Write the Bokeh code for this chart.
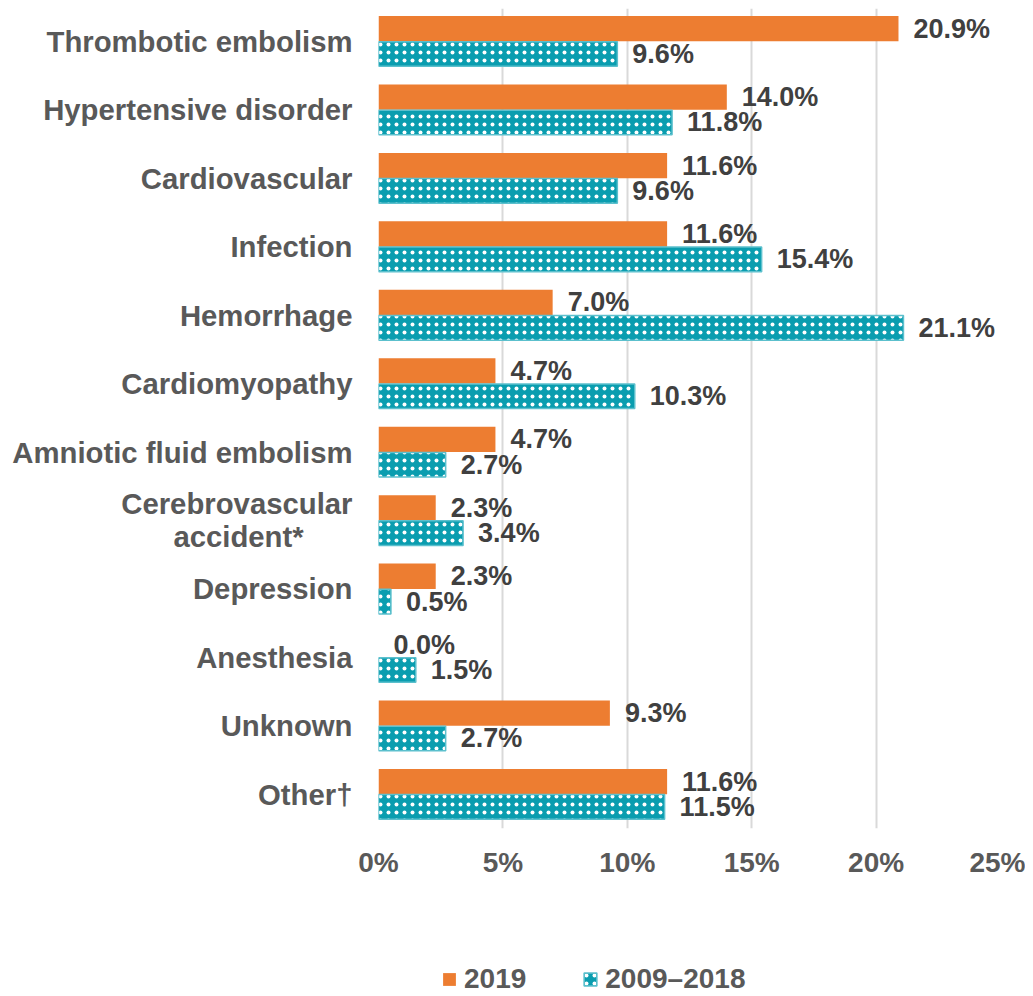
from bokeh.plotting import figure
from bokeh.models import ColumnDataSource, FixedTicker, Legend, LegendItem
from bokeh.layouts import column
from bokeh.core.properties import value
from bokeh.embed import file_html
from bokeh.resources import INLINE

NBSP = "\u00a0"
categories = ["Thrombotic embolism", "Hypertensive disorder", "Cardiovascular", "Infection",
              "Hemorrhage", "Cardiomyopathy", "Amniotic fluid embolism",
              "Cerebrovascular\naccident*" + NBSP * 6, "Depression", "Anesthesia", "Unknown",
              "Other\u2020"]
series_names = ["2019", "2009\u20132018"]
values_2019 = [20.9, 14.0, 11.6, 11.6, 7.0, 4.7, 4.7, 2.3, 2.3, 0.0, 9.3, 11.6]
values_0918 = [9.6, 11.8, 9.6, 15.4, 21.1, 10.3, 2.7, 3.4, 0.5, 1.5, 2.7, 11.5]
x_ticks = [0, 5, 10, 15, 20, 25]
x_tick_labels = ["0%", "5%", "10%", "15%", "20%", "25%"]

FONT = "Liberation Sans"
ORANGE = "#ED7D31"
TEAL = "#0A9DAF"
TEAL_EDGE = "#5CC0CD"
GRAY = "#595959"
DARK = "#404040"

n = len(categories)
pos = [n - 1 - i for i in range(n)]
off = 0.185

src_a = ColumnDataSource(dict(y=[p + off for p in pos], v=values_2019,
                              lab=["%.1f%%" % v for v in values_2019]))
src_b = ColumnDataSource(dict(y=[p - off for p in pos], v=values_0918,
                              lab=["%.1f%%" % v for v in values_0918]))

style_a = dict(fill_color=ORANGE, line_color=None)
style_b = dict(fill_color=TEAL, line_color=TEAL_EDGE, line_width=1.5,
               hatch_pattern=".", hatch_color="white", hatch_scale=8, hatch_weight=1)

p = figure(width=1025, height=880, output_backend="svg", toolbar_location=None,
           x_range=(0, 25), y_range=(-0.5, 11.48),
           min_border_left=378, min_border_right=25, min_border_top=8, min_border_bottom=52)
p.outline_line_color = None
p.background_fill_color = "white"

p.hbar(y="y", right="v", left=0, height=0.37, source=src_a, **style_a)
p.hbar(y="y", right="v", left=0, height=0.36, source=src_b, **style_b)

for src in (src_a, src_b):
    p.text(x="v", y="y", text="lab", source=src, x_offset=15, text_align="left",
           text_baseline="middle", text_font=value(FONT), text_font_style="bold",
           text_font_size="27px", text_color=DARK)

# x axis
p.xaxis.ticker = FixedTicker(ticks=x_ticks)
p.xaxis.major_label_overrides = {t: l for t, l in zip(x_ticks, x_tick_labels)}
p.xaxis.axis_line_color = None
p.xaxis.major_tick_line_color = None
p.xaxis.minor_tick_line_color = None
p.xaxis.major_tick_out = 0
p.xaxis.major_label_standoff = 18
p.xaxis.major_label_text_font = FONT
p.xaxis.major_label_text_font_style = "bold"
p.xaxis.major_label_text_font_size = "28px"
p.xaxis.major_label_text_color = GRAY

# y axis
p.yaxis.ticker = FixedTicker(ticks=pos)
p.yaxis.major_label_overrides = {pp: c for pp, c in zip(pos, categories)}
p.yaxis.axis_line_color = None
p.yaxis.major_tick_line_color = None
p.yaxis.minor_tick_line_color = None
p.yaxis.major_tick_out = 0
p.yaxis.major_label_standoff = 26
p.yaxis.major_label_text_font = FONT
p.yaxis.major_label_text_font_style = "bold"
p.yaxis.major_label_text_font_size = "29.3px"
p.yaxis.major_label_text_line_height = 1.0
p.yaxis.major_label_text_color = GRAY

p.xgrid.ticker = FixedTicker(ticks=x_ticks)
p.xgrid.grid_line_color = "#D9D9D9"
p.xgrid.grid_line_width = 2
p.ygrid.grid_line_color = None

# legend figure below the chart (its frame is aligned with the chart's frame)
lf = figure(width=1025, height=116, output_backend="svg", toolbar_location=None,
            x_range=(0, 1), y_range=(0, 1), min_border=0)
lf.axis.visible = False
lf.grid.visible = False
lf.outline_line_color = None
# one off-range placeholder row so the legend swatches get their styles
proxy = ColumnDataSource(dict(y=[-5], v=[0]))
la = lf.hbar(y="y", right="v", left=0, height=0.1, source=proxy, **style_a)
lb = lf.hbar(y="y", right="v", left=0, height=0.1, source=proxy, **style_b)
legend = Legend(items=[LegendItem(label=series_names[0], renderers=[la]),
                       LegendItem(label=series_names[1], renderers=[lb])],
                orientation="horizontal", location=(63, 1),
                padding=0, margin=0, spacing=56, label_standoff=7,
                glyph_width=16, glyph_height=16,
                label_text_font=FONT, label_text_font_style="bold",
                label_text_font_size="28px", label_text_color=GRAY,
                border_line_color=None, background_fill_alpha=0)
lf.add_layout(legend, "center")

open("out.html", "w").write(file_html(column(p, lf, spacing=0), INLINE))
